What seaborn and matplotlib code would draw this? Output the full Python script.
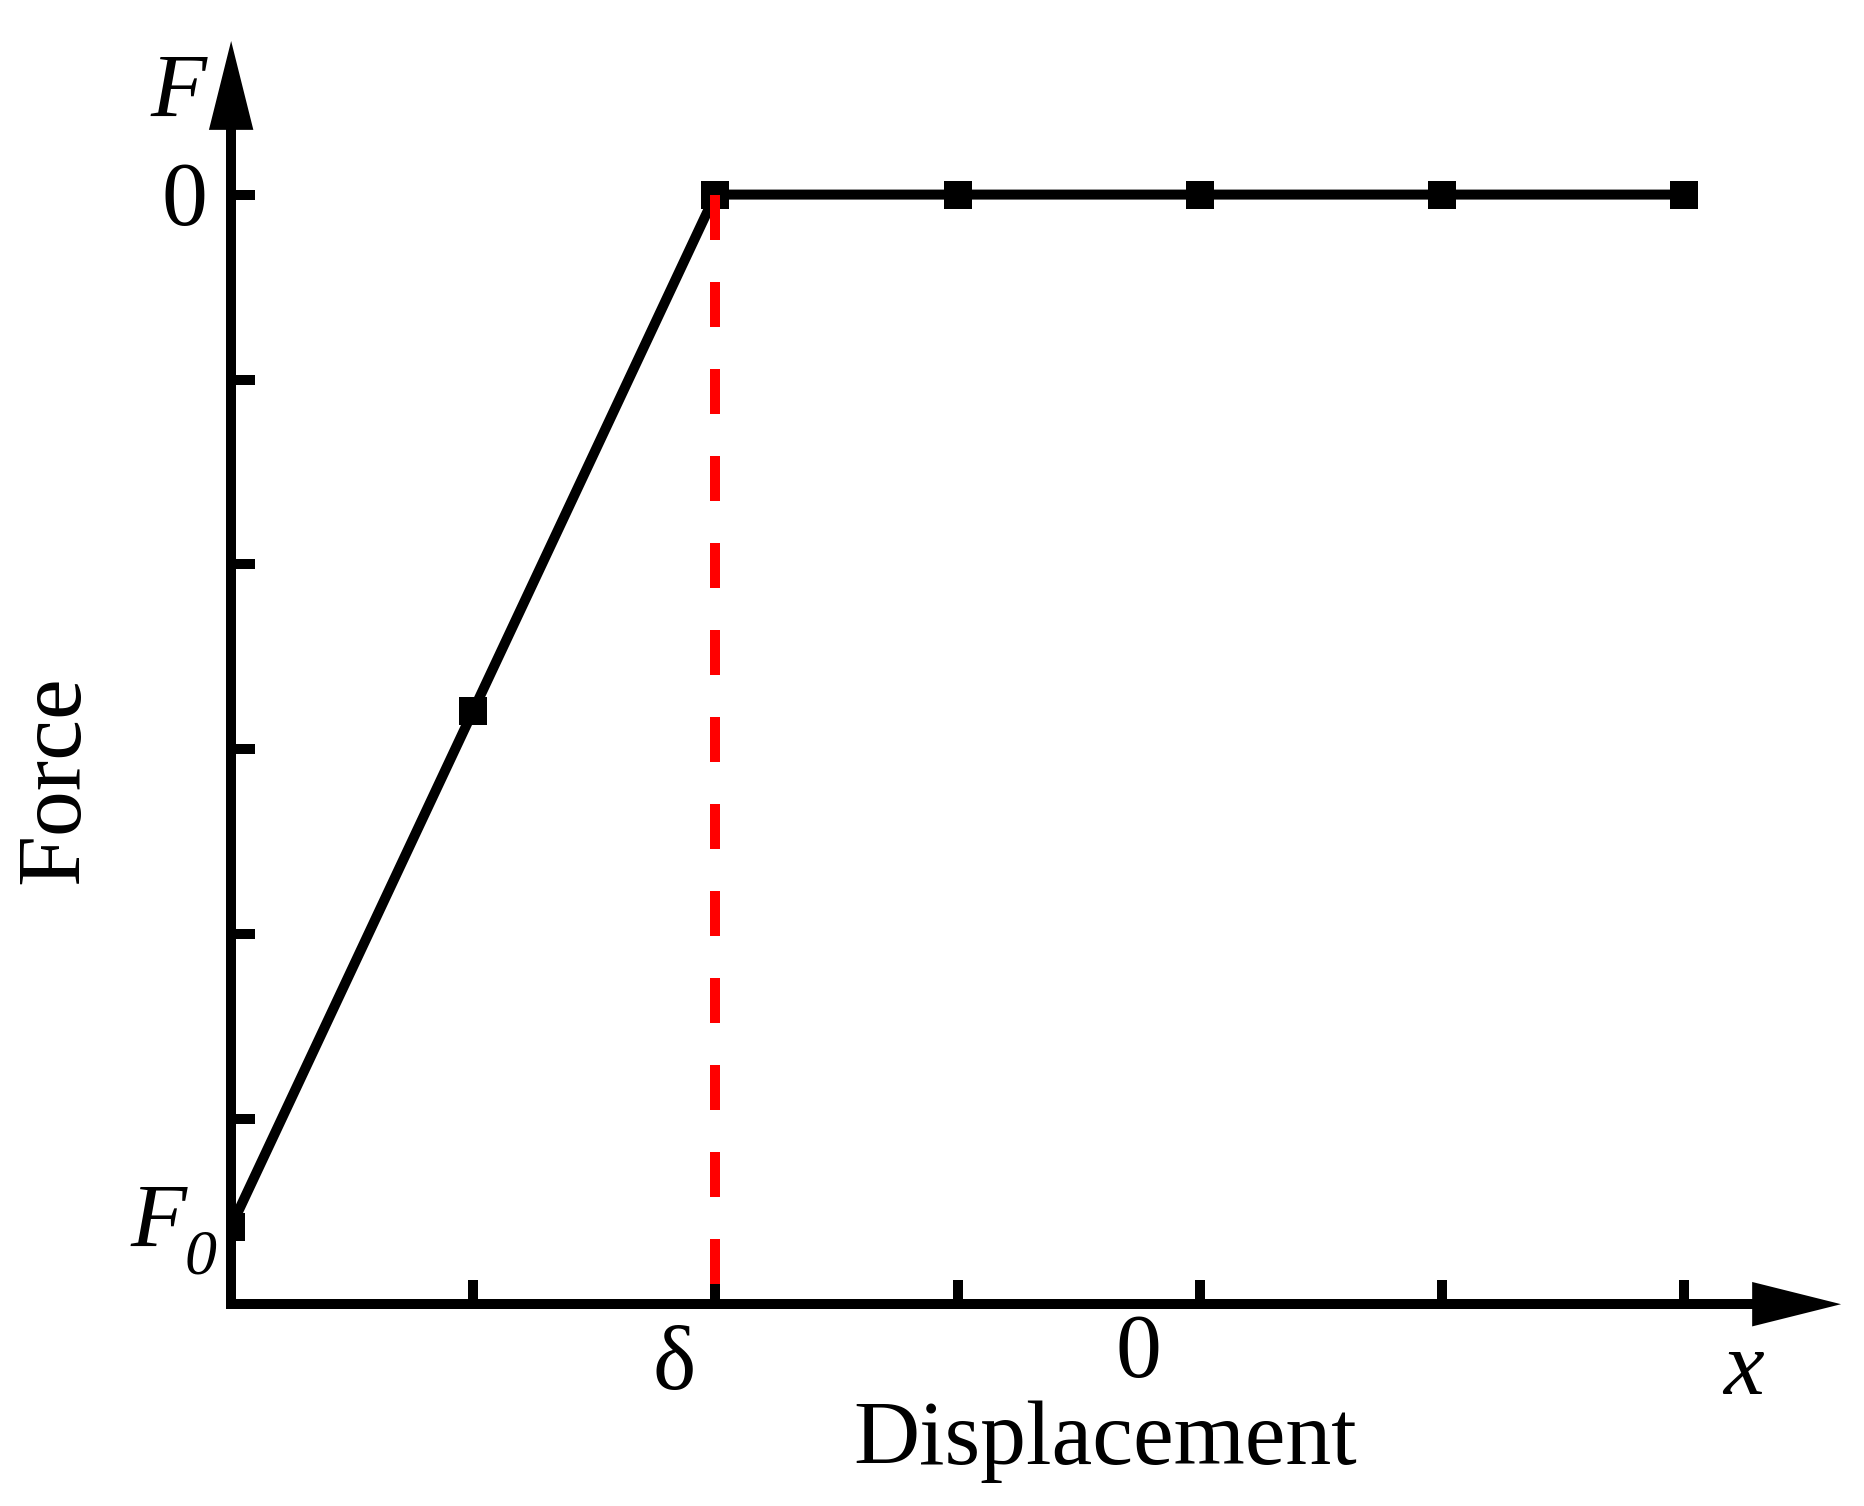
import matplotlib
matplotlib.use("Agg")
import matplotlib.pyplot as plt
import seaborn as sns
import pandas as pd

# ==========================
# DATA
# ==========================

displacement = [0, 1, 2, 3, 4, 5, 6]
force = [0.42, 3.21, 6, 6, 6, 6, 6]
delta_x = 2
tick_positions = [1, 2, 3, 4, 5, 6]

curve = pd.DataFrame({"Displacement": displacement, "Force": force})

# ==========================
# STYLE
# ==========================

sns.set_theme(style="white")
plt.rcParams["font.family"] = ["Liberation Serif", "DejaVu Serif"]
plt.rcParams["text.color"] = "black"

FS = 66
LW = 7.2

fig = plt.figure(figsize=(18.64, 15.06), dpi=100)
ax = fig.add_axes([0.124, 0.134, 0.821, 0.781])

# ==========================
# CURVE + DASHED LINE
# ==========================

sns.lineplot(
    data=curve, x="Displacement", y="Force",
    color="black", linewidth=LW,
    marker="s", markersize=19.5,
    markeredgewidth=0, markerfacecolor="black",
    ax=ax
)

ax.plot([delta_x, delta_x], [force[2], 0],
        color="red", linewidth=7.2, linestyle=(0, (4.5, 4.2)), zorder=4)

# ==========================
# AXES
# ==========================

ax.set_xlim(0, 6.32)
ax.set_ylim(0, 6.36)
ax.set_xticks(tick_positions)
ax.set_yticks(tick_positions)
ax.set_xticklabels([])
ax.set_yticklabels([])
ax.tick_params(direction="in", length=17, width=LW, color="black",
               bottom=True, left=True)
ax.set_xlabel("")
ax.set_ylabel("")

for s in ["top", "right"]:
    ax.spines[s].set_visible(False)
for s in ["bottom", "left"]:
    ax.spines[s].set_linewidth(LW)
    ax.spines[s].set_color("black")
    ax.spines[s].set_capstyle("projecting")

arrow = dict(arrowstyle="-|>,head_length=0.8,head_width=0.2",
             mutation_scale=80, color="black", lw=0,
             shrinkA=0, shrinkB=0)
ax.annotate("", xy=(1.052, 0), xytext=(0.99, 0),
            xycoords="axes fraction", arrowprops=arrow, annotation_clip=False)
ax.annotate("", xy=(0, 1.074), xytext=(0, 0.99),
            xycoords="axes fraction", arrowprops=arrow, annotation_clip=False)

# ==========================
# LABELS
# ==========================

def label(x, y, s, **kw):
    fig.text(x / 1864, 1 - y / 1506, s, ha="center", va="center",
             color="black", **kw)

label(178, 95, "F", fontsize=FS, style="italic")
label(184, 203, "0", fontsize=FS)
label(158, 1225, "F", fontsize=FS, style="italic")
label(201, 1258, "0", fontsize=46, style="italic")

label(674, 1367, "δ", fontsize=FS)
label(1138, 1355, "0", fontsize=FS)
label(1743, 1372, "x", fontsize=FS, style="italic")

label(1105, 1442, "Displacement", fontsize=FS)
label(56, 780, "Force", fontsize=FS, rotation=90)

fig.savefig("out.png", dpi=100, facecolor="white")
